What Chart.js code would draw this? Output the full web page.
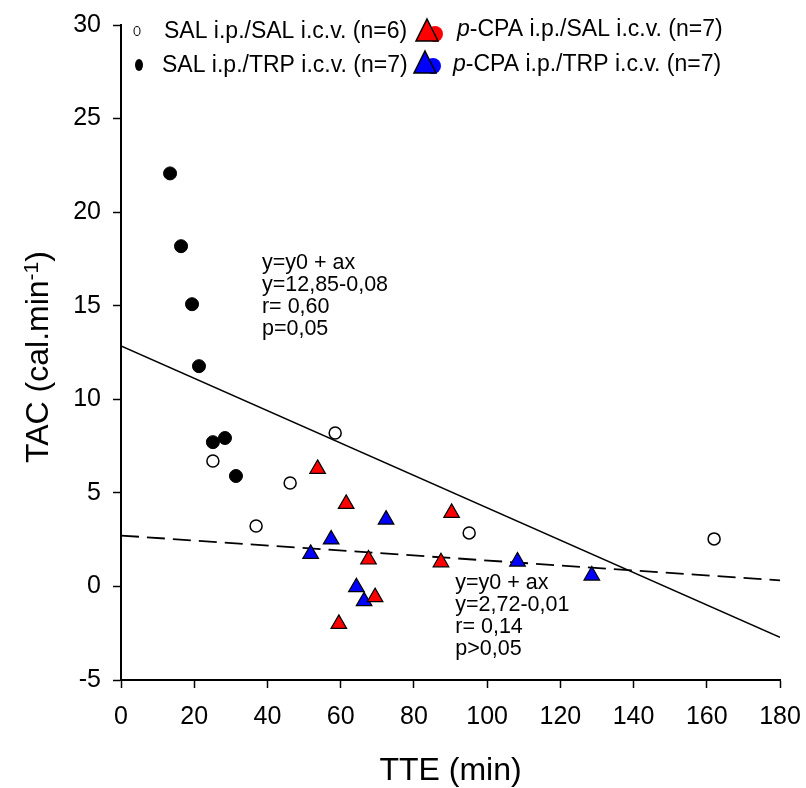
<!DOCTYPE html>
<html>
<head>
<meta charset="utf-8">
<script src="https://cdn.jsdelivr.net/npm/chart.js@4.4.0/dist/chart.umd.min.js"></script>
<style>
  html, body { margin: 0; padding: 0; background: #fff; }
  #wrap { width: 806px; height: 788px; }
</style>
</head>
<body>
<div id="wrap"><canvas id="myChart" width="806" height="788"></canvas></div>
<script>
// data
const salSalX = [25.1, 36.9, 46.2, 58.5, 95.1, 162.0];
const salSalY = [6.70, 3.23, 5.53, 8.20, 2.86, 2.54];

const salTrpX = [13.4, 16.4, 19.4, 21.3, 25.1, 28.4, 31.4];
const salTrpY = [22.07, 18.18, 15.08, 11.77, 7.71, 7.93, 5.90];

const pcpaSalX = [53.7, 61.5, 90.3, 67.6, 87.4, 69.4, 59.5];
const pcpaSalY = [6.28, 4.41, 3.93, 1.44, 1.29, -0.57, -2.00];

const pcpaTrpX = [72.4, 57.4, 51.8, 108.3, 128.6, 64.3, 66.4];
const pcpaTrpY = [3.57, 2.51, 1.74, 1.33, 0.58, -0.04, -0.79];

// regression lines (end points at x=0 and x=180)
const fitX = [0, 180];
const fitSolidY = [12.85, -2.72];
const fitDashY = [2.72, 0.32];

const yTicks = [-5, 0, 5, 10, 15, 20, 25, 30];
const xTicks = [0, 20, 40, 60, 80, 100, 120, 140, 160, 180];

const labelsSolid = ["y=y0 + ax", "y=12,85-0,08", "r= 0,60", "p=0,05"];
const labelsDash = ["y=y0 + ax", "y=2,72-0,01", "r= 0,14", "p>0,05"];

const FONT = "'Liberation Sans', Arial, sans-serif";

function pts(xs, ys) {
  return xs.map((x, i) => ({ x: x, y: ys[i] }));
}

const extras = {
  id: "extras",
  afterDraw(chart) {
    const ctx = chart.ctx;
    const xs = chart.scales.x;
    const ys = chart.scales.y;
    ctx.save();
    ctx.fillStyle = "#000";
    ctx.textBaseline = "middle";
    ctx.textAlign = "left";

    // equation labels
    ctx.font = "21.5px " + FONT;
    let lx = xs.getPixelForValue(38.5);
    let ly = ys.getPixelForValue(17.3);
    labelsSolid.forEach((t, i) => ctx.fillText(t, lx, ly + i * 22));
    lx = xs.getPixelForValue(91.3);
    ly = ys.getPixelForValue(0.2);
    labelsDash.forEach((t, i) => ctx.fillText(t, lx, ly + i * 22));

    // x title
    ctx.textAlign = "center";
    ctx.font = "32px " + FONT;
    ctx.fillText("TTE (min)", (xs.left + xs.right) / 2, 771);

    // y title with superscript
    ctx.save();
    ctx.translate(39, 357);
    ctx.rotate(-Math.PI / 2);
    ctx.textAlign = "left";
    const a = "TAC (cal.min";
    const sup = "-1";
    const b = ")";
    ctx.font = "32px " + FONT;
    const wa = ctx.measureText(a).width;
    const wb = ctx.measureText(b).width;
    ctx.font = "21px " + FONT;
    const ws = ctx.measureText(sup).width;
    let sx = -(wa + ws + wb) / 2;
    ctx.font = "32px " + FONT;
    ctx.fillText(a, sx, 0);
    ctx.font = "21px " + FONT;
    ctx.fillText(sup, sx + wa, -7);
    ctx.font = "32px " + FONT;
    ctx.fillText(b, sx + wa + ws, 0);
    ctx.restore();

    // legend
    ctx.textAlign = "left";
    ctx.lineWidth = 1;
    ctx.strokeStyle = "#000";
    // open circle
    ctx.beginPath();
    ctx.ellipse(137, 31, 3, 4.5, 0, 0, Math.PI * 2);
    ctx.fillStyle = "#fff";
    ctx.fill();
    ctx.stroke();
    // filled circle
    ctx.beginPath();
    ctx.ellipse(139, 65, 4, 6, 0, 0, Math.PI * 2);
    ctx.fillStyle = "#000";
    ctx.fill();

    function legTri(cx, cy, color) {
      ctx.beginPath();
      ctx.arc(cx + 8, cy + 3, 8, 0, Math.PI * 2);
      ctx.fillStyle = color;
      ctx.fill();
      ctx.beginPath();
      ctx.moveTo(cx, cy - 12);
      ctx.lineTo(cx + 11, cy + 10);
      ctx.lineTo(cx - 11, cy + 10);
      ctx.closePath();
      ctx.fillStyle = color;
      ctx.fill();
      ctx.lineWidth = 1.5;
      ctx.strokeStyle = "#000";
      ctx.stroke();
    }
    legTri(427, 31, "#ff0000");
    legTri(425, 63, "#0000ff");

    ctx.fillStyle = "#000";
    ctx.font = "23px " + FONT;
    ctx.fillText("SAL i.p./SAL i.c.v. (n=6)", 164, 32);
    ctx.fillText("SAL i.p./TRP i.c.v. (n=7)", 162, 66);
    function pcpa(x, y, rest) {
      ctx.font = "italic 23px " + FONT;
      ctx.fillText("p", x, y);
      const w = ctx.measureText("p").width;
      ctx.font = "23px " + FONT;
      ctx.fillText(rest, x + w, y);
    }
    pcpa(457, 30, "-CPA i.p./SAL i.c.v. (n=7)");
    pcpa(453, 65, "-CPA i.p./TRP i.c.v. (n=7)");
    ctx.restore();
  }
};

const ctx = document.getElementById("myChart");

const newChart = new Chart(ctx, {
  type: "scatter",
  data: {
    datasets: [
      {
        label: "fit SAL",
        type: "line",
        data: pts(fitX, fitSolidY),
        borderColor: "#000",
        borderWidth: 1.5,
        pointRadius: 0,
        fill: false,
        order: 10,
      },
      {
        label: "fit p-CPA",
        type: "line",
        data: pts(fitX, fitDashY),
        borderColor: "#000",
        borderWidth: 1.8,
        borderDash: [18, 8],
        pointRadius: 0,
        fill: false,
        order: 10,
      },
      {
        label: "SAL i.p./SAL i.c.v. (n=6)",
        data: pts(salSalX, salSalY),
        pointStyle: "circle",
        pointRadius: 6,
        backgroundColor: "#fff",
        borderColor: "#000",
        borderWidth: 1.5,
      },
      {
        label: "SAL i.p./TRP i.c.v. (n=7)",
        data: pts(salTrpX, salTrpY),
        pointStyle: "circle",
        pointRadius: 6.5,
        backgroundColor: "#000",
        borderColor: "#000",
        borderWidth: 1,
      },
      {
        label: "p-CPA i.p./SAL i.c.v. (n=7)",
        data: pts(pcpaSalX, pcpaSalY),
        pointStyle: "triangle",
        pointRadius: 9,
        backgroundColor: "#ff0000",
        borderColor: "#000",
        borderWidth: 1.2,
      },
      {
        label: "p-CPA i.p./TRP i.c.v. (n=7)",
        data: pts(pcpaTrpX, pcpaTrpY),
        pointStyle: "triangle",
        pointRadius: 9,
        backgroundColor: "#0000ff",
        borderColor: "#000",
        borderWidth: 1.2,
      },
    ],
  },
  options: {
    responsive: false,
    animation: false,
    devicePixelRatio: 1,
    layout: { padding: { top: 25, right: 26, left: 0, bottom: 0 } },
    plugins: {
      legend: { display: false },
      tooltip: { enabled: false },
    },
    scales: {
      x: {
        type: "linear",
        min: 0,
        max: 180,
        afterBuildTicks: (s) => { s.ticks = xTicks.map((v) => ({ value: v })); },
        afterFit: (s) => { s.height = 108; s.paddingLeft = 0; s.paddingRight = 0; },
        ticks: { color: "#000", font: { size: 25, family: FONT }, padding: 14, maxRotation: 0 },
        grid: { drawOnChartArea: false, drawTicks: true, tickLength: 8, tickColor: "#000", tickWidth: 1.5 },
        border: { display: true, color: "#000", width: 2 },
      },
      y: {
        type: "linear",
        min: -5,
        max: 30,
        afterBuildTicks: (s) => { s.ticks = yTicks.map((v) => ({ value: v })); },
        afterFit: (s) => { s.width = 121; s.paddingTop = 0; s.paddingBottom = 0; },
        ticks: { color: "#000", font: { size: 25, family: FONT }, padding: 12 },
        grid: { drawOnChartArea: false, drawTicks: true, tickLength: 8, tickColor: "#000", tickWidth: 1.5 },
        border: { display: true, color: "#000", width: 2 },
      },
    },
  },
  plugins: [extras],
});
</script>
</body>
</html>
